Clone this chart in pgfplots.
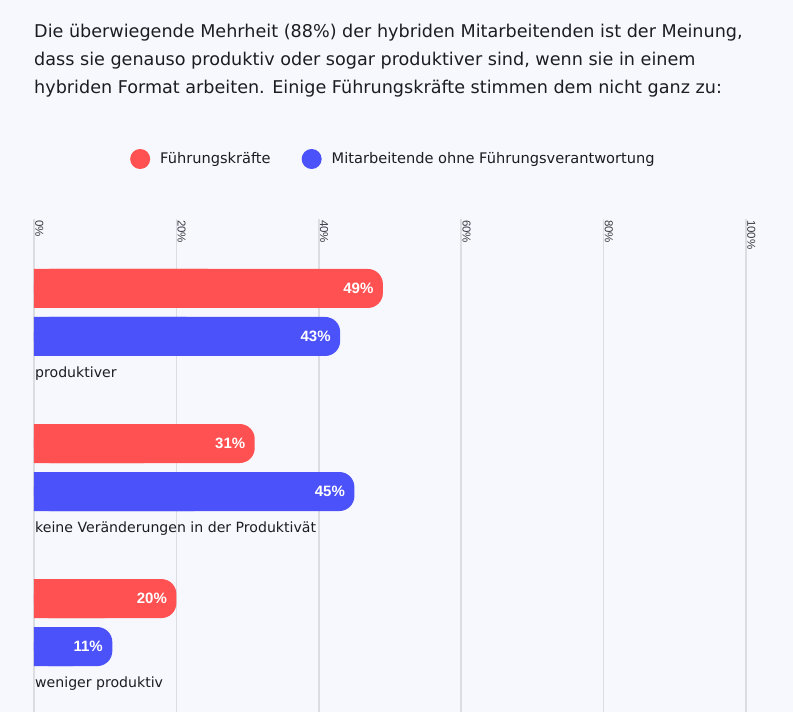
\documentclass[border=0pt]{standalone}
\usepackage{pgfplots}
\pgfplotsset{compat=1.18}
\usepackage{pgfplotstable}
\usepackage{fontspec}
\setmainfont{DejaVu Sans}
\newfontfamily\tickfont{Liberation Sans}
\definecolor{bg}{HTML}{F7F8FD}
\definecolor{fred}{HTML}{FF5151}
\definecolor{fblue}{HTML}{4B52F9}
\definecolor{gridc}{HTML}{DCDDE2}
\definecolor{txt}{HTML}{1C1C24}
\definecolor{ticktxt}{HTML}{3C3C46}

\pgfplotstableread{
cat red blue
2 49 43
1 31 45
0 20 11
}\datatable

\begin{document}
\begin{tikzpicture}[x=1pt,y=1pt]
\fill[bg] (0,0) rectangle (793,-712);
\begin{scope}[every node/.style={anchor=base west, font=\fontsize{17.6}{22}\selectfont, text=txt, inner sep=0pt}]
\node at (34,-37.5) {Die überwiegende Mehrheit (88\%) der hybriden Mitarbeitenden ist der Meinung,};
\node at (34,-65.5) {dass sie genauso produktiv oder sogar produktiver sind, wenn sie in einem};
\node at (34,-93.5) {hybriden Format arbeiten. Einige Führungskräfte stimmen dem nicht ganz zu:};
\end{scope}
\begin{axis}[
  at={(34pt,-712pt)}, anchor=south west,
  width=712pt, height=493pt, scale only axis,
  xmin=0, xmax=100, ymin=-0.577, ymax=2.603,
  axis line style={draw=none},
  major tick length=0pt,
  xtick={0,20,...,100},
  xticklabel pos=upper,
  /pgf/number format/assume math mode=true,
  xticklabel={\pgfmathprintnumber{\tick}\%},
  xticklabel style={rotate=-90, anchor=south west, inner sep=1pt, font=\tickfont\fontsize{11.5}{12}\selectfont, text=ticktxt},
  xmajorgrids, grid style={gridc, line width=1.5pt},
  ytick={0,1,2},
  yticklabels={weniger produktiv, keine Veränderungen in der Produktivät, produktiver},
  yticklabel style={anchor=west, inner sep=1pt, yshift=-61pt, font=\fontsize{14.1}{17}\selectfont, text=txt},
  legend style={at={(axis description cs:0.1306,1.1217)}, anchor=west, draw=none, fill=none,
    legend columns=2, font=\fontsize{14.6}{18}\selectfont, text=txt,
    /tikz/every even column/.append style={column sep=29pt}},
  legend cell align=left,
]
\addplot[xbar, bar width=39pt, bar shift=24pt, fill=fred, draw=none, forget plot]
  table[y=cat, x expr=\thisrow{red}/2] {\datatable};
\addplot[xbar, bar width=39pt, bar shift=-24pt, fill=fblue, draw=none, forget plot]
  table[y=cat, x expr=\thisrow{blue}/2] {\datatable};
\addplot[xbar, bar width=39pt, bar shift=24pt, fill=fred, draw=none, rounded corners=15pt,
  point meta=x, nodes near coords={\pgfmathprintnumber{\pgfplotspointmeta}\%},
  every node near coord/.append style={anchor=east, xshift=-6pt, yshift=24pt, text=white, font=\tickfont\fontsize{15}{17}\selectfont\bfseries},
  legend image code/.code={\fill[fred] (0pt,0pt) circle (10pt); \path (18pt,0pt);}]
  table[y=cat, x=red] {\datatable};
\addlegendentry{Führungskräfte}
\addplot[xbar, bar width=39pt, bar shift=-24pt, fill=fblue, draw=none, rounded corners=15pt,
  point meta=x, nodes near coords={\pgfmathprintnumber{\pgfplotspointmeta}\%},
  every node near coord/.append style={anchor=east, xshift=-6pt, yshift=-24pt, text=white, font=\tickfont\fontsize{15}{17}\selectfont\bfseries},
  legend image code/.code={\fill[fblue] (0pt,0pt) circle (10pt); \path (18pt,0pt);}]
  table[y=cat, x=blue] {\datatable};
\addlegendentry{Mitarbeitende ohne Führungsverantwortung}
\end{axis}
\pgfresetboundingbox
\useasboundingbox (0,0) rectangle (793,-712);
\end{tikzpicture}
\end{document}
